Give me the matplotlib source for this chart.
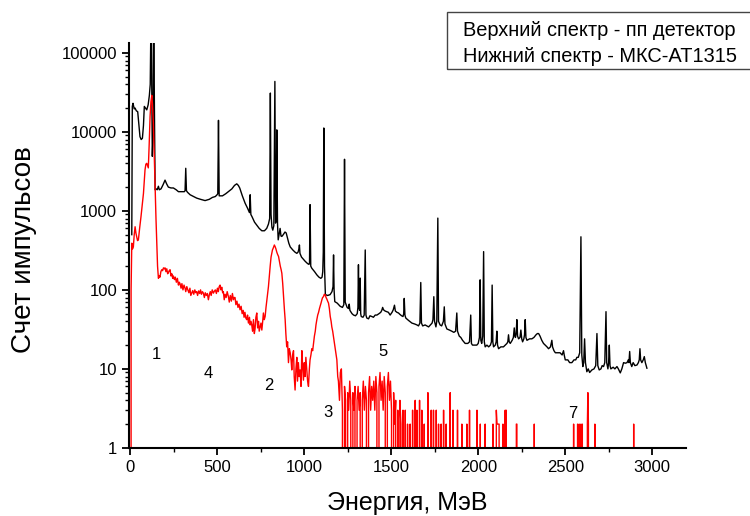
import matplotlib
matplotlib.use("Agg")
import matplotlib.pyplot as plt
from matplotlib.patches import Rectangle
from matplotlib.ticker import FixedLocator, LogLocator, FuncFormatter, MultipleLocator, NullFormatter

plt.rcParams['font.family'] = ['Liberation Sans', 'DejaVu Sans']

# верхний спектр (пп детектор): энергия, счет
black_spectrum = [
    (10, 500), (13, 21000), (17, 23000), (24, 19500), (29, 20000), (36, 18500), (44, 18000),
    (50, 13000), (57, 8700), (64, 8000), (71, 8300), (77, 12000), (82, 21000), (89, 20000),
    (96, 19000), (104, 22000), (111, 29000), (116, 40000), (121, 400000), (125, 30000),
    (128, 4900), (132, 9000), (136, 400000), (140, 20000), (144, 1850), (150, 1900),
    (156, 1850), (163, 2050), (168, 1850), (178, 1900), (190, 2150), (201, 2450), (210, 2200),
    (220, 2000), (235, 1950), (249, 1950), (265, 1850), (278, 1750), (300, 1750), (312, 1750),
    (316, 1800), (320, 3460), (324, 1800), (330, 1720), (345, 1600), (365, 1520), (383, 1450),
    (405, 1400), (431, 1350), (455, 1400), (473, 1480), (490, 1520), (500, 1600), (504, 1650),
    (508, 14000), (512, 1550), (531, 1550), (550, 1650), (565, 1750), (585, 1900), (600, 2100),
    (613, 2200), (622, 2100), (630, 1950), (645, 1550), (661, 1250), (675, 1080), (686, 950),
    (690, 1600), (694, 900), (700, 850), (715, 720), (728, 660), (742, 600), (757, 560),
    (772, 560), (785, 600), (795, 680), (802, 800), (806, 31000), (810, 900), (815, 620),
    (820, 570), (826, 650), (832, 43500), (836, 700), (840, 800), (843, 10600), (847, 700),
    (851, 430), (856, 500), (862, 600), (867, 480), (872, 475), (880, 500), (890, 540),
    (897, 525), (905, 450), (912, 390), (920, 350), (935, 320), (948, 300), (958, 290),
    (965, 300), (970, 330), (973, 370), (976, 290), (985, 260), (995, 245), (1006, 230),
    (1020, 215), (1028, 210), (1031, 220), (1034, 1200), (1038, 200), (1044, 188), (1060, 170),
    (1073, 155), (1085, 145), (1096, 140), (1103, 145), (1107, 170), (1110, 300), (1113, 11200),
    (1117, 200), (1122, 87), (1135, 85), (1149, 87), (1160, 95), (1166, 110), (1169, 277),
    (1172, 100), (1176, 71), (1190, 68), (1207, 62), (1220, 60), (1228, 65), (1232, 4500),
    (1236, 70), (1247, 60), (1255, 58), (1259, 66), (1263, 55), (1275, 50), (1284, 48),
    (1295, 47), (1305, 50), (1309, 60), (1312, 208), (1315, 60), (1319, 55), (1322, 141),
    (1325, 50), (1328, 46), (1338, 45), (1345, 48), (1351, 320), (1355, 48), (1360, 44),
    (1370, 43), (1378, 47), (1389, 46), (1398, 45), (1408, 48), (1418, 48), (1430, 50),
    (1440, 52), (1446, 55), (1451, 60), (1456, 56), (1465, 54), (1475, 53), (1484, 52),
    (1494, 48), (1505, 52), (1512, 56), (1519, 64), (1524, 54), (1533, 52), (1542, 51),
    (1550, 49), (1560, 47), (1568, 46), (1572, 50), (1575, 78), (1579, 48), (1584, 44),
    (1600, 41), (1619, 38), (1635, 37), (1648, 36), (1657, 35), (1665, 38), (1670, 124),
    (1674, 38), (1681, 35), (1695, 36), (1705, 35), (1715, 34), (1725, 36), (1735, 38),
    (1740, 42), (1745, 82), (1749, 40), (1757, 34), (1762, 40), (1768, 810), (1772, 40),
    (1781, 36), (1790, 35), (1800, 40), (1805, 61), (1809, 37), (1820, 32), (1835, 31),
    (1848, 30), (1860, 29), (1870, 30), (1877, 51), (1881, 30), (1891, 26), (1900, 25),
    (1910, 23), (1925, 21), (1940, 21), (1950, 22), (1957, 48), (1961, 21), (1967, 20),
    (1980, 20), (1992, 20), (2000, 21), (2007, 25), (2011, 134), (2015, 23), (2020, 21),
    (2026, 26), (2031, 305), (2035, 22), (2040, 19), (2050, 20), (2060, 19), (2070, 20),
    (2076, 22), (2080, 115), (2084, 22), (2088, 19), (2098, 20), (2103, 22), (2107, 30),
    (2111, 20), (2117, 18), (2130, 19), (2145, 19), (2155, 20), (2165, 21), (2170, 22),
    (2174, 27), (2178, 22), (2184, 21), (2195, 23), (2202, 25), (2207, 33), (2211, 26),
    (2214, 25), (2218, 28), (2222, 42), (2226, 26), (2232, 24), (2240, 25), (2245, 31),
    (2250, 24), (2255, 22), (2262, 24), (2266, 27), (2270, 42), (2274, 25), (2280, 23),
    (2295, 24), (2308, 24), (2320, 25), (2332, 27), (2340, 28), (2347, 28), (2355, 26),
    (2365, 23), (2375, 21), (2385, 20), (2395, 19), (2404, 18), (2415, 19), (2419, 21),
    (2423, 23), (2427, 19), (2435, 17), (2443, 16), (2455, 16), (2470, 16), (2482, 15),
    (2490, 17), (2494, 15), (2500, 13), (2515, 13), (2525, 12), (2538, 12), (2550, 13),
    (2560, 13), (2567, 14), (2575, 14), (2583, 16), (2590, 470), (2595, 15), (2601, 10.7),
    (2606, 12), (2611, 24), (2616, 12), (2624, 9.2), (2632, 10), (2640, 9), (2653, 9.7),
    (2665, 10), (2675, 11), (2682, 28), (2687, 11), (2695, 9.7), (2705, 10), (2712, 11),
    (2720, 10.7), (2727, 12), (2734, 53), (2738, 12), (2745, 10), (2749, 12), (2753, 20),
    (2757, 11), (2762, 10), (2775, 10.5), (2785, 10), (2797, 10.7), (2805, 10), (2816, 8.9),
    (2825, 10), (2835, 12), (2845, 11.8), (2855, 12), (2862, 13), (2866, 12), (2870, 16.6),
    (2874, 12), (2882, 10.7), (2890, 12), (2900, 11), (2912, 11.2), (2920, 12), (2925, 13),
    (2929, 18), (2933, 13), (2940, 12), (2948, 13), (2954, 14.3), (2960, 12), (2969, 10.2),
]

# нижний спектр (МКС-АТ1315), область пиков
red_peaks = [
    (3, 0), (6, 100), (10, 390), (14, 330), (19, 350), (24, 500), (29, 630), (34, 520),
    (38, 470), (43, 420), (48, 430), (55, 600), (63, 850), (70, 1200), (77, 1660), (82, 2500),
    (86, 3300), (91, 3900), (96, 4000), (101, 3700), (105, 3500), (110, 7000), (115, 15600),
    (120, 24000), (125, 29000), (129, 22000), (134, 13000), (139, 5000), (144, 1850),
    (149, 800), (153, 430), (158, 200), (163, 140), (168, 150), (172, 145), (177, 170),
    (182, 180), (187, 175), (192, 190), (197, 185), (201, 190), (206, 170), (211, 185),
    (216, 160), (220, 165), (225, 175), (230, 180), (235, 150), (240, 160), (245, 140),
    (249, 150), (255, 135), (260, 145), (266, 125), (272, 140), (278, 115), (283, 125),
    (287, 120), (293, 105), (298, 120), (304, 100), (310, 115), (316, 105), (320, 95),
    (326, 110), (332, 100), (338, 92), (344, 105), (349, 85), (354, 91), (360, 98), (366, 88),
    (372, 100), (378, 92), (383, 95), (388, 85), (394, 97), (400, 90), (405, 100), (410, 88),
    (416, 95), (421, 91), (427, 80), (432, 92), (438, 85), (444, 90), (450, 75), (456, 88),
    (461, 95), (466, 85), (472, 100), (479, 91), (484, 96), (490, 100), (496, 90), (502, 105),
    (507, 95), (512, 110), (517, 115), (522, 100), (527, 108), (532, 92), (536, 95), (541, 75),
    (546, 88), (552, 80), (558, 95), (565, 82), (570, 70), (576, 85), (582, 72), (588, 90),
    (594, 75), (598, 80), (603, 80), (608, 65), (614, 72), (620, 60), (626, 66), (632, 56),
    (638, 62), (644, 50), (650, 55), (655, 45), (660, 52), (665, 44), (670, 42), (675, 48),
    (680, 38), (686, 45), (690, 36), (695, 40), (699, 36), (704, 30), (709, 42), (714, 28),
    (718, 32), (723, 45), (728, 51), (733, 33), (738, 40), (742, 30), (747, 34), (752, 38),
    (757, 31), (762, 40), (766, 51), (771, 42), (776, 46), (781, 60), (786, 75), (790, 91),
    (795, 110), (800, 150), (805, 200), (810, 260), (814, 290), (818, 320), (823, 340),
    (829, 370), (834, 350), (838, 330), (843, 300), (848, 280), (853, 265), (858, 230),
    (863, 200), (868, 180), (872, 162), (877, 120), (882, 80), (887, 55), (891, 42), (895, 28),
    (900, 19), (905, 22), (910, 12), (915, 18), (920, 16), (925, 13), (929, 9.7), (934, 15),
    (939, 17), (943, 8), (948, 5.4), (953, 10), (958, 14), (962, 7), (967, 12), (972, 8),
    (977, 9.7), (982, 6), (987, 17), (991, 11), (996, 7.2), (1001, 12), (1005, 8), (1010, 14),
    (1015, 9.7), (1020, 7), (1025, 6), (1030, 10), (1034, 13), (1039, 15), (1044, 18),
    (1049, 17), (1054, 21), (1059, 26), (1064, 30), (1068, 36), (1073, 42), (1078, 48),
    (1083, 52), (1088, 58), (1092, 62), (1097, 68), (1102, 75), (1106, 80), (1111, 82),
    (1116, 88), (1121, 87), (1126, 80), (1131, 76), (1135, 72), (1140, 68), (1145, 58),
    (1150, 46), (1155, 40), (1159, 34), (1164, 30), (1168, 26), (1172, 23), (1177, 19),
    (1183, 15), (1188, 13), (1193, 8), (1197, 7), (1203, 4), (1208, 9),
]

# нижний спектр, шумовой хвост
red_noise = [
    (1214, 10), (1220, 3), (1226, 0), (1232, 6), (1238, 4), (1244, 0), (1250, 5), (1256, 3),
    (1262, 7), (1268, 4), (1274, 0), (1280, 5), (1286, 3), (1292, 6), (1298, 0), (1304, 4),
    (1310, 6), (1316, 3), (1322, 5), (1328, 0), (1334, 4), (1340, 7), (1346, 3), (1352, 6),
    (1358, 4), (1364, 0), (1370, 5), (1376, 8), (1382, 3), (1388, 6), (1394, 4), (1400, 7),
    (1406, 3), (1412, 8), (1418, 5), (1424, 0), (1430, 6), (1436, 9), (1442, 4), (1448, 7),
    (1454, 3), (1460, 8), (1466, 5), (1472, 0), (1478, 6), (1484, 9), (1490, 4), (1496, 7),
    (1502, 3), (1508, 0), (1514, 5), (1520, 2), (1526, 4), (1532, 0), (1538, 3), (1544, 0),
    (1550, 4), (1556, 2), (1562, 0), (1568, 3), (1574, 0),
    (1578, 0), (1581, 3), (1584, 0), (1591, 0), (1594, 2), (1597, 0), (1606, 0), (1609, 2),
    (1612, 0), (1620, 0), (1623, 3), (1626, 0), (1635, 0), (1638, 4), (1641, 0), (1645, 0),
    (1648, 3), (1651, 0), (1660, 0), (1663, 4), (1666, 0), (1673, 0), (1676, 3), (1679, 0),
    (1687, 0), (1690, 2), (1693, 0), (1708, 0), (1711, 5), (1714, 0), (1727, 0), (1730, 3),
    (1733, 0), (1740, 0), (1743, 3), (1746, 0), (1756, 0), (1759, 3), (1762, 0), (1769, 0),
    (1772, 2), (1775, 0), (1784, 0), (1787, 2), (1790, 0), (1798, 0), (1801, 3), (1804, 0),
    (1813, 0), (1816, 2), (1819, 0), (1836, 0), (1839, 5), (1842, 0), (1852, 0), (1855, 3),
    (1858, 0), (1878, 0), (1881, 3), (1884, 0), (1903, 0), (1906, 2), (1909, 0), (1932, 0),
    (1935, 2), (1938, 0), (1947, 0), (1950, 3), (1953, 0), (1990, 0), (1993, 3), (1996, 0),
    (2009, 0), (2012, 2), (2015, 0), (2037, 0), (2040, 2), (2043, 0), (2082, 0), (2085, 2),
    (2088, 0), (2101, 0), (2104, 3), (2108, 2), (2120, 2), (2123, 0), (2139, 0), (2142, 2),
    (2145, 0), (2152, 0), (2155, 3), (2158, 0), (2161, 3), (2164, 0), (2216, 0), (2219, 2),
    (2222, 2), (2225, 0), (2319, 0), (2322, 2), (2325, 0), (2545, 0), (2548, 2), (2551, 0),
    (2568, 0), (2571, 2), (2574, 0), (2577, 0), (2580, 2), (2583, 0), (2587, 0), (2590, 2),
    (2593, 0), (2595, 0), (2598, 2), (2601, 0), (2627, 2), (2630, 5), (2633, 2), (2636, 0),
    (2667, 0), (2670, 2), (2673, 0), (2890, 0), (2893, 2), (2896, 0),
]

# номера пиков на графике
peak_labels = ["1", "4", "2", "3", "5", "7"]
peak_label_e = [153, 450, 795, 1134, 1456, 2544]
peak_label_c = [15, 8.8, 6.1, 2.8, 16.5, 2.7]

legend_lines = ["Верхний спектр - пп детектор", "Нижний спектр - МКС-АТ1315"]

fig = plt.figure(figsize=(7.5, 5.16), dpi=100)
ax = fig.add_axes([0.172, 0.132, 0.743, 0.785])

be = [p[0] for p in black_spectrum]
bc = [p[1] for p in black_spectrum]
red = red_peaks + red_noise
re_ = [p[0] for p in red]
rc = [p[1] for p in red]

ax.plot(be, bc, color="black", lw=1.0)
ax.plot(re_, rc, color="#ff0000", lw=1.0)

ax.set_yscale("log", nonpositive="clip")
ax.set_ylim(1, 134000)
ax.set_xlim(-6, 3195)

ax.yaxis.set_major_locator(FixedLocator([1, 10, 100, 1000, 10000, 100000]))
ax.yaxis.set_major_formatter(FuncFormatter(lambda v, p: "%d" % round(v)))
ax.yaxis.set_minor_locator(LogLocator(base=10, subs=range(2, 10), numticks=20))
ax.yaxis.set_minor_formatter(NullFormatter())
ax.xaxis.set_major_locator(MultipleLocator(500))
ax.xaxis.set_minor_locator(MultipleLocator(250))

for s in ["top", "right"]:
    ax.spines[s].set_visible(False)
for s in ["left", "bottom"]:
    ax.spines[s].set_linewidth(1.5)

ax.tick_params(which="major", direction="out", length=5, width=1.3, labelsize=12)
ax.tick_params(which="minor", direction="out", length=3, width=1.0)

ax.set_xlabel("Энергия, МэВ", fontsize=18)
ax.set_ylabel("Счет импульсов", fontsize=20)
ax.xaxis.set_label_coords(0.5, -0.106)
ax.yaxis.set_label_coords(-0.165, 0.49)

for t, x, y in zip(peak_labels, peak_label_e, peak_label_c):
    ax.text(x, y, t, fontsize=12, ha="center", va="center")

fig.patches.append(Rectangle((447 / 750, 1 - 69 / 516), 0.5, 57 / 516,
                             transform=fig.transFigure, fill=False,
                             edgecolor="#444444", lw=1.0))
fig.text(463 / 750, 1 - 36 / 516, legend_lines[0], fontsize=14.4, va="baseline")
fig.text(463 / 750, 1 - 62 / 516, legend_lines[1], fontsize=14.4, va="baseline")

fig.savefig("out.png", dpi=100)
